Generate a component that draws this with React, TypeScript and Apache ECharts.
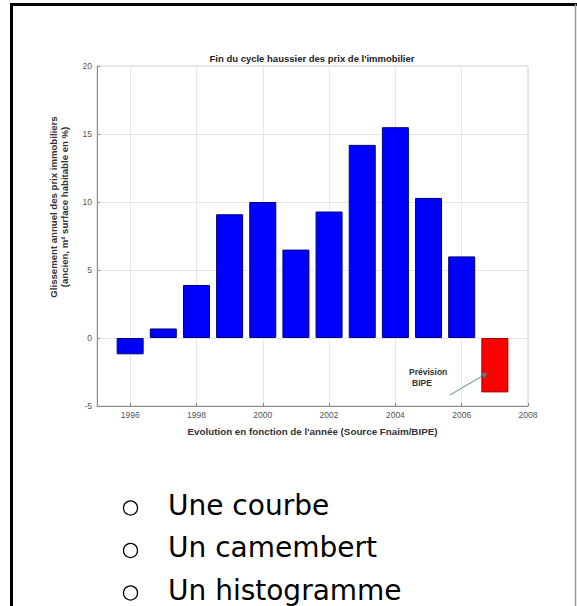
import React, { useEffect, useRef } from 'react';
import * as echarts from 'echarts';

// ---- data ----
const years = [1996, 1997, 1998, 1999, 2000, 2001, 2002, 2003, 2004, 2005, 2006];
const growth = [-1.2, 0.7, 3.9, 9.1, 10.0, 6.5, 9.3, 14.2, 15.5, 10.3, 6.0];
const forecastYears = [2007];
const forecastValues = [-4.0];
const xTickYears = [1996, 1998, 2000, 2002, 2004, 2006, 2008];
const xRange = [1995, 2008];
const yRange = [-5, 20];
const yStep = 5;
const chartTitle = "Fin du cycle haussier des prix de l'immobilier";
const xName = "Evolution en fonction de l'année (Source Fnaim/BIPE)";
const yNameLines = ['Glissement annuel des prix immobiliers', '(ancien, m² surface habitable en %)'];
const annotationLines = ['Prévision', 'BIPE'];
const arrowStart = [2005.64, -4.2];
const arrowEnd = [2006.76, -2.6];
const bullets = ['Une courbe', 'Un camembert', 'Un histogramme'];

const FONT = '"Liberation Sans", Arial, Helvetica, sans-serif';
const BULLET_FONT = '"Comic Sans MS", "DejaVu Sans", sans-serif';

export default function App() {
  const ref = useRef<HTMLDivElement>(null);

  useEffect(() => {
    document.body.style.margin = '0';
    const chart = echarts.init(ref.current!, undefined, { renderer: 'svg' });

    const barData: any[] = years.map((y, i) => [y, growth[i]]);
    forecastYears.forEach((y, i) => {
      barData.push({
        value: [y, forecastValues[i]],
        itemStyle: { color: '#ff0000', borderColor: '#a00000' },
      });
    });

    const graphics: any[] = [
      // frame
      { type: 'line', shape: { x1: 11.5, y1: 3, x2: 11.5, y2: 606 }, style: { stroke: '#000', lineWidth: 3 } },
      { type: 'line', shape: { x1: 10, y1: 4.5, x2: 577, y2: 4.5 }, style: { stroke: '#000', lineWidth: 3 } },
      { type: 'line', shape: { x1: 575.5, y1: 4, x2: 575.5, y2: 606 }, style: { stroke: '#9a9a9a', lineWidth: 1.5 } },
      // title
      {
        type: 'text', x: 312, y: 58.5,
        style: { text: chartTitle, align: 'center', verticalAlign: 'middle', font: `bold 9.5px ${FONT}`, fill: '#222' },
      },
      // y axis name
      {
        type: 'text', x: 59, y: 207, rotation: Math.PI / 2,
        style: {
          text: yNameLines.join('\n'), align: 'center', verticalAlign: 'middle',
          font: `bold 9.6px ${FONT}`, lineHeight: 10.5, fill: '#333',
        },
      },
      // annotation
      {
        type: 'text', x: 409, y: 372,
        style: { text: annotationLines[0], align: 'left', verticalAlign: 'middle', font: `bold 8.5px ${FONT}`, fill: '#333' },
      },
      {
        type: 'text', x: 412, y: 383,
        style: { text: annotationLines[1], align: 'left', verticalAlign: 'middle', font: `bold 8.5px ${FONT}`, fill: '#333' },
      },
    ];

    bullets.forEach((b, i) => {
      const cy = 505 + i * 42.5;
      graphics.push({
        type: 'circle', shape: { cx: 130.5, cy: cy + 3, r: 7 },
        style: { fill: 'none', stroke: '#000', lineWidth: 1.3 },
      });
      graphics.push({
        type: 'text', x: 168, y: cy,
        style: { text: b, align: 'left', verticalAlign: 'middle', font: `28px ${BULLET_FONT}`, fill: '#000' },
      });
    });

    chart.setOption({
      animation: false,
      backgroundColor: '#fff',
      grid: {
        left: 97, right: 49, top: 66, bottom: 200,
        show: true, borderColor: '#cfcfcf', borderWidth: 1, backgroundColor: 'transparent',
      },
      xAxis: {
        type: 'value', min: xRange[0], max: xRange[1],
        name: xName, nameLocation: 'middle', nameGap: 20,
        nameTextStyle: { fontFamily: FONT, fontWeight: 'bold', fontSize: 9.8, color: '#333' },
        axisLine: { show: true, onZero: false, lineStyle: { color: '#8a8a8a', width: 1 } },
        axisTick: { show: true, inside: true, length: 3, customValues: xTickYears, lineStyle: { color: '#8a8a8a' } },
        axisLabel: {
          customValues: xTickYears, fontFamily: FONT, fontSize: 8.5, color: '#555', margin: 4,
          formatter: (v: number) => String(v),
        },
        splitLine: { show: true, lineStyle: { color: '#e6e6e6', width: 1 } },
      },
      yAxis: {
        type: 'value', min: yRange[0], max: yRange[1], interval: yStep,
        axisLine: { show: true, onZero: false, lineStyle: { color: '#8a8a8a', width: 1 } },
        axisTick: { show: true, inside: true, length: 3, lineStyle: { color: '#8a8a8a' } },
        axisLabel: { fontFamily: FONT, fontSize: 8.5, color: '#555', margin: 5 },
        splitLine: { show: true, lineStyle: { color: '#e6e6e6', width: 1 } },
      },
      series: [
        {
          type: 'bar',
          data: barData,
          barWidth: 27,
          itemStyle: { color: '#0000ff', borderColor: '#00007a', borderWidth: 1 },
          markLine: {
            silent: true,
            symbol: ['none', 'arrow'],
            symbolSize: 5,
            label: { show: false },
            lineStyle: { color: '#4f8f8f', width: 1, type: 'solid' },
            data: [[{ coord: arrowStart }, { coord: arrowEnd }]],
          },
        },
      ],
      graphic: graphics,
    });

    return () => chart.dispose();
  }, []);

  return <div ref={ref} style={{ position: 'absolute', left: 0, top: 0, width: 577, height: 606 }} />;
}
